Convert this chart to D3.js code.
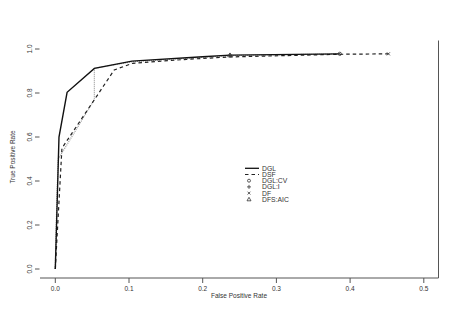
<!DOCTYPE html>
<html><head><meta charset="utf-8">
<script src="https://cdn.jsdelivr.net/npm/d3@7"></script>
<style>body{margin:0;background:#fff}svg{display:block}text{font-family:"Liberation Sans",Arial,sans-serif;fill:#333}</style>
</head><body><svg id="c" width="468" height="331"></svg>
<script>
const dglFPR = [0, 0.005, 0.016, 0.053, 0.104, 0.2, 0.237, 0.386];
const dglTPR = [0, 0.6, 0.803, 0.912, 0.945, 0.965, 0.972, 0.978];
const dsfFPR = [0, 0.009, 0.08, 0.105, 0.178, 0.237, 0.386, 0.452];
const dsfTPR = [0, 0.549, 0.905, 0.935, 0.953, 0.964, 0.976, 0.978];
const refFPR = [0, 0.002, 0.004, 0.053, 0.053, 0.104, 0.237, 0.386];
const refTPR = [0, 0.3, 0.5, 0.77, 0.912, 0.942, 0.97, 0.978];
const xTicks = [0, 0.1, 0.2, 0.3, 0.4, 0.5];
const yTicks = [0, 0.2, 0.4, 0.6, 0.8, 1.0];
const markerNames = ["DGL:CV", "DGL:I", "DF", "DFS:AIC"];
const markerFPR = [0.386, 0.237, 0.452, 0.237];
const markerTPR = [0.978, 0.972, 0.978, 0.972];
const legendNames = ["DGL", "DSF", "DGL:CV", "DGL:I", "DF", "DFS:AIC"];

const svg = d3.select("#c");
const x = d3.scaleLinear().domain([0, 0.5]).range([55.3, 423.8]);
const y = d3.scaleLinear().domain([0, 1]).range([269, 49]);
const pLeft = 40, pRight = 438.5, pTop = 40.5, pBottom = 278;

svg.append("path").attr("d", `M${pLeft},${pBottom}H${pRight}V${pTop}`)
  .attr("fill", "none").attr("stroke", "#555").attr("stroke-width", 1);

const gx = svg.append("g");
gx.selectAll("line").data(xTicks).join("line")
  .attr("x1", d => x(d)).attr("x2", d => x(d)).attr("y1", pBottom).attr("y2", pBottom + 5)
  .attr("stroke", "#555");
gx.selectAll("text").data(xTicks).join("text")
  .attr("x", d => x(d)).attr("y", 291).attr("text-anchor", "middle")
  .attr("font-size", 6.5).text(d => d.toFixed(1));
svg.append("text").attr("x", 239).attr("y", 297.5).attr("text-anchor", "middle")
  .attr("font-size", 6.5).text("False Positive Rate");

const gy = svg.append("g");
gy.selectAll("line").data(yTicks).join("line")
  .attr("x1", 35).attr("x2", 39.5).attr("y1", d => y(d)).attr("y2", d => y(d))
  .attr("stroke", "#555");
gy.selectAll("text").data(yTicks).join("text")
  .attr("transform", d => `translate(32,${y(d)}) rotate(-90)`)
  .attr("text-anchor", "middle").attr("font-size", 6.5).text(d => d.toFixed(1));
svg.append("text").attr("transform", "translate(15,157) rotate(-90)")
  .attr("text-anchor", "middle").attr("font-size", 6.5).text("True Positive Rate");

const line = d3.line().x(d => x(d[0])).y(d => y(d[1]));
const zip = (a, b) => a.map((v, i) => [v, b[i]]);

svg.append("path").datum(zip(refFPR, refTPR)).attr("d", line)
  .attr("fill", "none").attr("stroke", "#9a9a9a").attr("stroke-width", 1.2).attr("stroke-dasharray", "1,1");
svg.append("path").datum(zip(dsfFPR, dsfTPR)).attr("d", line)
  .attr("fill", "none").attr("stroke", "#222").attr("stroke-width", 1.2).attr("stroke-dasharray", "3.5,3");
svg.append("path").datum(zip(dglFPR, dglTPR)).attr("d", line)
  .attr("fill", "none").attr("stroke", "#111").attr("stroke-width", 1.4);

function drawMarker(g, name, cx, cy, s) {
  let el;
  if (name === "DGL:CV") el = g.append("circle").attr("cx", cx).attr("cy", cy).attr("r", s * 0.75);
  else if (name === "DGL:I") el = g.append("path").attr("d", `M${cx - s},${cy}H${cx + s}M${cx},${cy - s}V${cy + s}`);
  else if (name === "DF") el = g.append("path").attr("d", `M${cx - s * .7},${cy - s * .7}L${cx + s * .7},${cy + s * .7}M${cx - s * .7},${cy + s * .7}L${cx + s * .7},${cy - s * .7}`);
  else el = g.append("path").attr("d", `M${cx},${cy - s}L${cx + s},${cy + s * .75}L${cx - s},${cy + s * .75}Z`);
  el.attr("fill", "none").attr("stroke", "#333").attr("stroke-width", 0.8);
}
const gm = svg.append("g");
markerNames.forEach((n, i) => drawMarker(gm, n, x(markerFPR[i]), y(markerTPR[i]), 2.2));

const lg = svg.append("g");
legendNames.forEach((n, i) => {
  const ly = 168.3 + i * 6.2;
  if (n === "DGL") lg.append("line").attr("x1", 245).attr("x2", 259).attr("y1", ly).attr("y2", ly).attr("stroke", "#111").attr("stroke-width", 1.3);
  else if (n === "DSF") lg.append("line").attr("x1", 245).attr("x2", 259).attr("y1", ly).attr("y2", ly).attr("stroke", "#222").attr("stroke-width", 1.1).attr("stroke-dasharray", "3.5,3");
  else drawMarker(lg, n, 249, ly, 2);
  lg.append("text").attr("x", 262).attr("y", ly + 2.4).attr("font-size", 6.8).text(n);
});
</script></body></html>
